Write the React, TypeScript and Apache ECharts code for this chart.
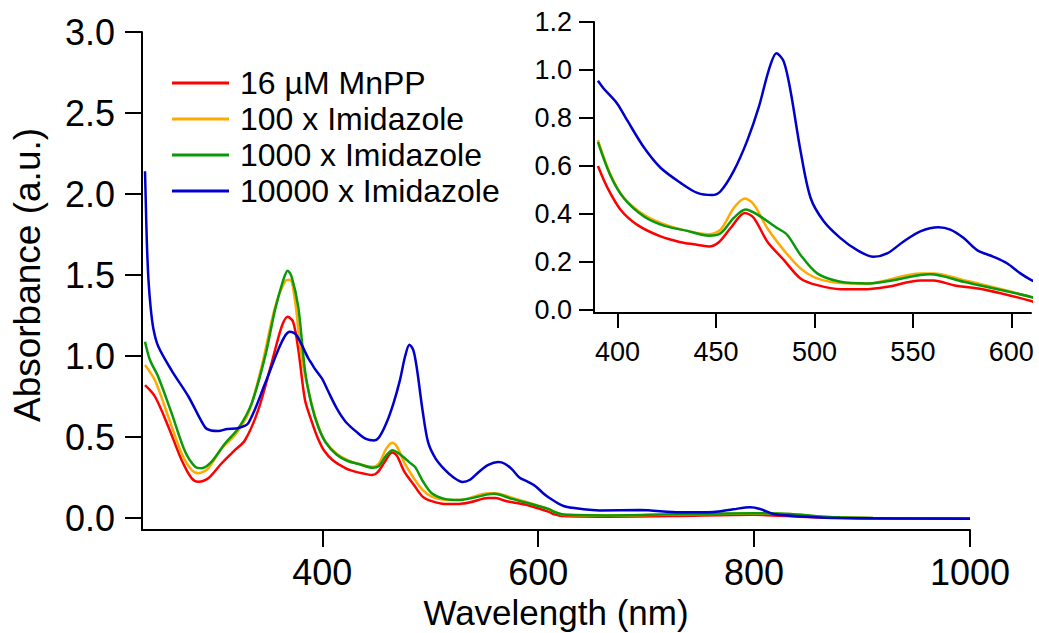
import React, { useEffect, useRef } from "react";
import * as echarts from "echarts";

// ---- Data: [wavelength (nm), absorbance (a.u.)] ----
const seriesNames = ["16 µM MnPP", "100 x Imidazole", "1000 x Imidazole", "10000 x Imidazole"];
const seriesColors = ["#ff0000", "#ffaa00", "#0a990a", "#0000cc"];

const mnpp: [number, number][] = [
  [235.8, 0.82], [245, 0.75], [257.4, 0.564], [269.7, 0.358], [279, 0.245], [285.2, 0.224],
  [294.4, 0.245], [306.8, 0.338], [319.2, 0.42], [328.4, 0.48], [340.7, 0.667],
  [353, 0.955], [362.3, 1.18], [367.9, 1.243], [373, 1.21], [377.8, 1.04], [384, 0.728],
  [390, 0.6], [394.8, 0.51], [401.5, 0.418], [410, 0.355], [421.8, 0.307], [432, 0.283],
  [438.7, 0.274], [446.3, 0.265], [451.4, 0.283], [457.4, 0.342], [464.6, 0.405], [469.2, 0.384],
  [476, 0.286], [484.4, 0.209], [492.9, 0.132], [501.4, 0.104], [513.2, 0.087], [526.7, 0.087],
  [537, 0.097], [553.8, 0.123], [560.6, 0.123], [570.7, 0.104], [587.7, 0.083], [610, 0.038],
  [614, 0.025], [623.5, 0.012], [663.6, 0.008], [725, 0.012], [799.4, 0.02], [848.8, 0.006],
  [910.5, -0.004], [1000, -0.004],
];

const imid100: [number, number][] = [
  [235.8, 0.945], [245, 0.85], [257.4, 0.625], [269.7, 0.4], [279, 0.296], [285.2, 0.276],
  [294.4, 0.307], [306.8, 0.43], [319.2, 0.512], [331.5, 0.646], [343.8, 0.934], [356.2, 1.3],
  [365.5, 1.46], [370, 1.47], [374.7, 1.345], [380.8, 0.996],
  [390, 0.708], [396.4, 0.565], [403.2, 0.468], [413.4, 0.397], [423.5, 0.358], [435.4, 0.33],
  [446.3, 0.316], [452.3, 0.335], [459, 0.425], [464.6, 0.465], [469.2, 0.44], [476, 0.342],
  [484.4, 0.25], [492.9, 0.174], [501.4, 0.132], [513.2, 0.113], [526.7, 0.111], [553.8, 0.153],
  [560.6, 0.153], [575.8, 0.125], [610, 0.055],
  [614, 0.04], [623.5, 0.02], [663.6, 0.015], [725, 0.022], [799.4, 0.028], [833.3, 0.024],
  [864, 0.008], [910, 0.0], [1000, -0.002],
];

const imid1000: [number, number][] = [
  [235.8, 1.088], [240.4, 0.975], [248, 0.872], [260.5, 0.646], [272.9, 0.41], [282.1, 0.317],
  [288.2, 0.307], [297.5, 0.348], [309.9, 0.46], [322.2, 0.553], [334.6, 0.708], [347, 0.996],
  [356.2, 1.284], [363.9, 1.47], [367.9, 1.527], [371.6, 1.49], [377.8, 1.3], [384, 0.91],
  [390, 0.7], [396.4, 0.56], [403.2, 0.466], [413.4, 0.39], [423.5, 0.352], [435.4, 0.33],
  [446.3, 0.31], [452.3, 0.32], [459, 0.384], [465, 0.419], [471, 0.398], [481, 0.342],
  [486.1, 0.314], [492.9, 0.23], [501.4, 0.153], [513.2, 0.118], [526.7, 0.111], [553.8, 0.146],
  [559, 0.149], [575.8, 0.118], [610, 0.055],
  [614, 0.04], [623.5, 0.021], [663.6, 0.016], [725, 0.023], [799.4, 0.029], [833.3, 0.025],
  [864, 0.008], [910, 0.0], [1000, -0.002],
];

const imid10000: [number, number][] = [
  [235.8, 2.14], [236.5, 1.95], [237.5, 1.7], [239, 1.47], [241, 1.3], [243.5, 1.17], [248, 1.06],
  [260.5, 0.91], [276, 0.75], [291.4, 0.56], [297, 0.54], [303.7, 0.537], [312, 0.55], [322, 0.555],
  [331.5, 0.586], [347, 0.83], [359.3, 1.04], [366, 1.13], [370, 1.15], [376, 1.13], [387, 0.986],
  [390, 0.955], [393, 0.922], [399.8, 0.86], [404.9, 0.79], [413.4, 0.677], [421.8, 0.593],
  [432, 0.53], [440.5, 0.488], [448, 0.479], [452.3, 0.495], [459, 0.58], [465.8, 0.705],
  [471.7, 0.845], [476.8, 1.0], [480.7, 1.07], [484.4, 1.035], [487.8, 0.915], [492.9, 0.664],
  [498, 0.468], [504.7, 0.37], [513.2, 0.3], [521.7, 0.25], [530, 0.222], [536.9, 0.236],
  [545.3, 0.286], [553.8, 0.328], [563, 0.345], [569, 0.335], [575.8, 0.3], [582.6, 0.25],
  [591, 0.222], [597.8, 0.195], [604.6, 0.153], [610.2, 0.125],
  [623.5, 0.074], [642, 0.054], [657, 0.047], [694.4, 0.049], [731.5, 0.035], [762.3, 0.037],
  [780.8, 0.054], [796.3, 0.066], [805.6, 0.056], [817.9, 0.025], [848.8, 0.008], [879.6, 0.0],
  [1000, -0.004],
];

const allSeries = [mnpp, imid100, imid1000, imid10000];

// inset shows the 390–610 nm window of the same spectra
const insetStartNm = 390;

const mainXTicks = [400, 600, 800, 1000];
const mainYTicks = [0, 0.5, 1.0, 1.5, 2.0, 2.5, 3.0];
const insetXTicks = [400, 450, 500, 550, 600];
const insetYTicks = [0, 0.2, 0.4, 0.6, 0.8, 1.0, 1.2];

const FONT = "'Liberation Sans', Arial, Helvetica, sans-serif";

export default function App() {
  const ref = useRef<HTMLDivElement>(null);

  useEffect(() => {
    if (!ref.current) return;
    const chart = echarts.init(ref.current, null, { renderer: "svg" });

    const axisLine = { show: true, onZero: false, lineStyle: { color: "#000", width: 2 } };

    const mkX = (gridIndex: number, min: number, max: number, ticks: number[], fs: number, margin: number, tickLen: number, name?: string) => ({
      type: "value",
      gridIndex,
      min,
      max,
      name,
      nameLocation: "middle",
      nameGap: 44,
      nameTextStyle: { fontSize: 35, color: "#000", fontFamily: FONT },
      axisLine,
      axisTick: { show: true, length: tickLen, lineStyle: { color: "#000", width: 2 }, customValues: ticks },
      axisLabel: { fontSize: fs, color: "#000", fontFamily: FONT, margin, customValues: ticks, formatter: (v: number) => String(v) },
      splitLine: { show: false },
    });

    const mkY = (gridIndex: number, min: number, max: number, ticks: number[], fs: number, margin: number, tickLen: number, name?: string) => ({
      type: "value",
      gridIndex,
      min,
      max,
      name,
      nameLocation: "middle",
      nameGap: 96,
      nameTextStyle: { fontSize: 37, color: "#000", fontFamily: FONT, padding: [0, 0, 0, 12] },
      axisLine,
      axisTick: { show: true, length: tickLen, lineStyle: { color: "#000", width: 2 }, customValues: ticks },
      axisLabel: { fontSize: fs, color: "#000", fontFamily: FONT, margin, customValues: ticks, formatter: (v: number) => v.toFixed(1) },
      splitLine: { show: false },
    });

    const series: any[] = [];
    allSeries.forEach((d, i) => {
      series.push({
        name: seriesNames[i],
        type: "line",
        xAxisIndex: 0,
        yAxisIndex: 0,
        data: d,
        showSymbol: false,
        smooth: 0.3,
        clip: true,
        lineStyle: { color: seriesColors[i], width: 2.5 },
        itemStyle: { color: seriesColors[i] },
      });
    });
    allSeries.forEach((d, i) => {
      series.push({
        name: seriesNames[i],
        type: "line",
        xAxisIndex: 1,
        yAxisIndex: 1,
        data: d.filter((p) => p[0] >= insetStartNm),
        showSymbol: false,
        smooth: 0.3,
        clip: true,
        lineStyle: { color: seriesColors[i], width: 2.5 },
        itemStyle: { color: seriesColors[i] },
      });
    });

    chart.setOption({
      animation: false,
      backgroundColor: "#fff",
      textStyle: { fontFamily: FONT },
      grid: [
        { left: 142, right: 69, top: 32, bottom: 103, containLabel: false, outerBoundsMode: "none" },
        { left: 594, right: 8, top: 22, bottom: 320, containLabel: false, outerBoundsMode: "none" },
      ],
      xAxis: [
        mkX(0, 233, 1000, mainXTicks, 36, 24, 17, "Wavelength (nm)"),
        mkX(1, 388, 610, insetXTicks, 27, 25, 15),
      ],
      yAxis: [
        mkY(0, -0.074, 3.0, mainYTicks, 36, 27, 17, "Absorbance (a.u.)"),
        mkY(1, -0.012, 1.2, insetYTicks, 27, 22, 15),
      ],
      legend: {
        data: seriesNames,
        orient: "vertical",
        left: 167,
        top: 62,
        itemWidth: 57,
        itemHeight: 3,
        itemGap: 4,
        icon: "rect",
        textStyle: { fontSize: 32, lineHeight: 32, color: "#000", fontFamily: FONT, padding: [0, 0, 0, 6] },
      },
      series,
    });

    return () => chart.dispose();
  }, []);

  return (
    <div
      ref={ref}
      style={{ position: "absolute", left: 0, top: 0, width: 1039, height: 633, background: "#fff" }}
    />
  );
}
